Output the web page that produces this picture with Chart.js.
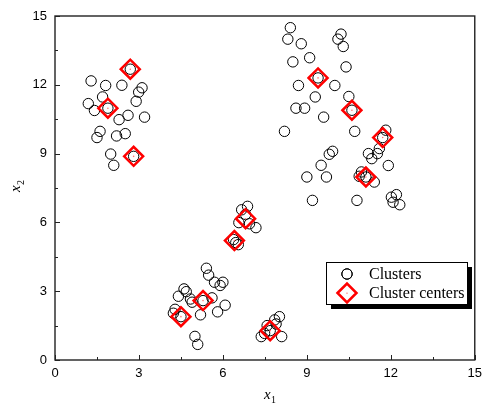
<!DOCTYPE html>
<html>
<head>
<meta charset="utf-8">
<script src="https://cdn.jsdelivr.net/npm/chart.js@4.4.1/dist/chart.umd.min.js"></script>
<style>
  html, body { margin: 0; padding: 0; background: #fff; }
  #wrap { width: 488px; height: 410px; position: relative; }
</style>
</head>
<body>
<div id="wrap"><canvas id="chart"></canvas></div>
<script>
// ── Data ──────────────────────────────────────────────────

const pointsX = [
  1.29, 1.81, 2.39, 3.11, 2.99, 1.70, 2.90, 1.19, 1.41, 1.89, 2.61, 2.29, 3.20, 1.61, 1.50, 2.51, 2.20, 1.99, 2.10, 2.81, 2.69,
  8.41, 8.32, 8.80, 10.22, 10.11, 10.30, 8.50, 9.10, 10.40, 9.40, 8.70, 10.00, 9.30, 10.50, 8.61, 8.92, 10.61, 9.60, 8.20, 10.71,
  11.82, 11.71, 11.59, 11.52, 11.20, 11.32, 9.92, 9.80, 9.51, 11.91, 9.00, 9.70, 10.95, 10.87, 11.11, 11.41, 9.20, 10.79,
  12.02, 12.20, 12.08, 12.32,
  6.88, 6.67, 6.81, 6.57, 6.95, 7.18, 6.38, 6.46, 6.55,
  5.41, 5.49, 5.70, 6.00, 5.90, 4.61, 4.69, 4.41, 4.84, 4.90, 5.61, 6.08, 5.81, 5.20, 4.29, 4.23, 5.29, 4.50, 5.00, 5.10,
  8.02, 7.85, 7.58, 7.37, 7.49, 8.10, 7.90, 7.69,
];
const pointsY = [
  12.17, 11.97, 11.98, 11.87, 11.68, 11.47, 11.28, 11.18, 10.88, 10.98, 10.67, 10.48, 10.59, 9.97, 9.70, 9.87, 9.77, 8.98, 8.49, 8.88, 12.68,
  14.49, 13.99, 13.79, 14.21, 13.99, 13.67, 13.00, 13.18, 12.78, 12.30, 11.97, 11.97, 11.47, 11.49, 10.98, 10.98, 10.89, 10.59, 9.97, 9.97,
  10.02, 9.70, 9.22, 9.00, 9.00, 8.78, 9.10, 8.97, 8.49, 8.48, 7.98, 7.98, 8.20, 8.01, 7.98, 7.76, 6.96, 6.96,
  7.10, 7.21, 6.88, 6.77,
  6.70, 6.55, 6.35, 5.99, 5.94, 5.77, 5.25, 5.12, 5.03,
  4.00, 3.70, 3.39, 3.39, 3.25, 3.10, 2.98, 2.78, 2.66, 2.52, 2.71, 2.39, 2.10, 1.97, 2.21, 2.04, 2.59, 1.89, 1.03, 0.68,
  1.89, 1.75, 1.50, 1.02, 1.16, 1.02, 1.57, 1.28,
];

const centersX = [2.69, 1.89, 2.81, 9.40, 10.61, 11.71, 11.11, 6.81, 6.41, 5.29, 4.50, 7.69];
const centersY = [12.68, 10.98, 8.88, 12.30, 10.89, 9.70, 7.98, 6.16, 5.21, 2.59, 1.89, 1.28];

const tickValues = [0, 3, 6, 9, 12, 15];
const legendLabels = ['Clusters', 'Cluster centers'];

// ── Chart ─────────────────────────────────────────────────

const toXY = (xs, ys) => xs.map((x, i) => ({ x, y: ys[i] }));

const SANS = '"Liberation Sans", Arial, sans-serif';
const SERIF = '"Liberation Serif", "Times New Roman", serif';

const framePlugin = {
  id: 'frame',
  afterDraw(chart) {
    const { ctx, chartArea: a, scales } = chart;
    ctx.save();
    ctx.strokeStyle = '#222';
    ctx.lineWidth = 1.4;
    ctx.strokeRect(a.left, a.top, a.right - a.left, a.bottom - a.top);

    // inward ticks on bottom and left axes
    ctx.lineWidth = 1;
    ctx.beginPath();
    for (let v = 0; v <= 15; v += 1.5) {
      const len = v % 3 === 0 ? 5 : 3;
      const px = Math.round(scales.x.getPixelForValue(v)) + 0.5;
      ctx.moveTo(px, a.bottom);
      ctx.lineTo(px, a.bottom - len);
      const py = Math.round(scales.y.getPixelForValue(v)) + 0.5;
      ctx.moveTo(a.left, py);
      ctx.lineTo(a.left + len, py);
    }
    ctx.stroke();

    // axis titles: italic x with subscript
    ctx.fillStyle = '#000';
    ctx.textBaseline = 'alphabetic';
    ctx.font = 'italic 15px ' + SERIF;
    ctx.fillText('x', 264, 399);
    ctx.font = '10px ' + SERIF;
    ctx.fillText('1', 271, 403);

    ctx.save();
    ctx.translate(20, 192);
    ctx.rotate(-Math.PI / 2);
    ctx.font = 'italic 15px ' + SERIF;
    ctx.fillText('x', 0, 0);
    ctx.font = '10px ' + SERIF;
    ctx.fillText('2', 7, 4);
    ctx.restore();

    // legend box with drop shadow
    const lx = 326, ly = 262, lw = 141, lh = 42;
    ctx.fillStyle = '#000';
    ctx.fillRect(lx + 5, ly + 5, lw, lh);
    ctx.fillStyle = '#fff';
    ctx.fillRect(lx, ly, lw, lh);
    ctx.strokeStyle = '#000';
    ctx.lineWidth = 1;
    ctx.strokeRect(lx + 0.5, ly + 0.5, lw, lh);

    const ds = chart.data.datasets;
    Chart.helpers.drawPoint(ctx, {
      pointStyle: 'circle', radius: ds[0].pointRadius, borderWidth: 1,
    }, 347, 274);
    ctx.strokeStyle = '#000';
    ctx.stroke();

    ctx.strokeStyle = ds[1].pointBorderColor;
    ctx.lineWidth = ds[1].pointBorderWidth;
    Chart.helpers.drawPoint(ctx, {
      pointStyle: 'rectRot', radius: ds[1].pointRadius, borderWidth: ds[1].pointBorderWidth,
    }, 347, 293);
    ctx.fillStyle = '#ff7070';
    ctx.fillRect(346.5, 292.5, 1, 1.5);

    ctx.fillStyle = '#000';
    ctx.font = '16px ' + SERIF;
    ctx.textBaseline = 'middle';
    ctx.fillText(legendLabels[0], 369, 275);
    ctx.fillText(legendLabels[1], 369, 294);
    ctx.restore();
  },
};

const axisCommon = {
  min: 0,
  max: 15,
  grid: { display: false, drawTicks: false },
  border: { display: false },
  ticks: {
    stepSize: 3,
    color: '#000',
    font: { family: SANS, size: 13 },
  },
  afterBuildTicks(scale) {
    scale.ticks = tickValues.map(v => ({ value: v }));
  },
};

new Chart(document.getElementById('chart'), {
  type: 'scatter',
  data: {
    datasets: [
      {
        label: legendLabels[0],
        data: toXY(pointsX, pointsY),
        pointStyle: 'circle',
        pointRadius: 5.2,
        pointBorderWidth: 1,
        pointBorderColor: '#000',
        pointBackgroundColor: 'rgba(0,0,0,0)',
        order: 2,
      },
      {
        label: legendLabels[1],
        data: toXY(centersX, centersY),
        pointStyle: 'rectRot',
        pointRadius: 9.5,
        pointBorderWidth: 2.5,
        pointBorderColor: '#ff0000',
        pointBackgroundColor: 'rgba(0,0,0,0)',
        order: 1,
      },
      {
        label: 'center dot',
        data: toXY(centersX, centersY),
        pointStyle: 'circle',
        pointRadius: 0.8,
        pointBorderWidth: 0,
        pointBackgroundColor: '#ff7070',
        order: 0,
      },
    ],
  },
  options: {
    responsive: true,
    maintainAspectRatio: false,
    animation: false,
    layout: { padding: { left: 0, right: 8, top: 16, bottom: 0 } },
    plugins: { legend: { display: false }, tooltip: { enabled: false } },
    scales: {
      x: {
        ...axisCommon,
        ticks: { ...axisCommon.ticks, padding: 6, maxRotation: 0 },
        afterFit(scale) { scale.height = 50; },
      },
      y: {
        ...axisCommon,
        ticks: { ...axisCommon.ticks, padding: 8 },
        afterFit(scale) { scale.width = 55; },
      },
    },
  },
  plugins: [framePlugin],
});
</script>
</body>
</html>
